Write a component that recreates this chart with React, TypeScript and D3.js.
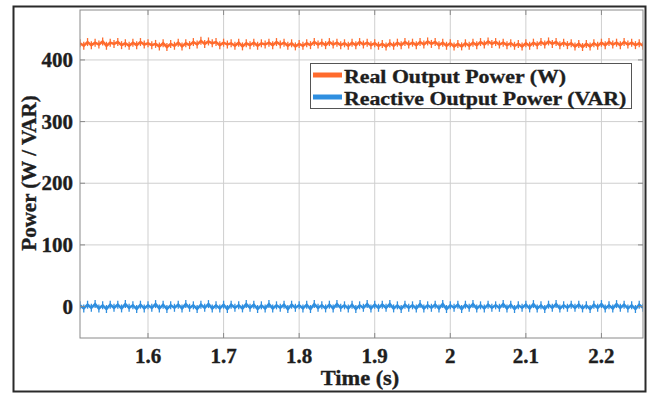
import React from "react";
import * as d3 from "d3";

const xTicks = [1.6, 1.7, 1.8, 1.9, 2.0, 2.1, 2.2];
const xTickLabels = ["1.6", "1.7", "1.8", "1.9", "2", "2.1", "2.2"];
const yTicks = [0, 100, 200, 300, 400];
const yTickLabels = ["0", "100", "200", "300", "400"];
const timeStart = 1.51;
const timeEnd = 2.255;

const realPower = [
  427, 423, 429, 424, 428, 425, 430, 423, 428, 426,
  429, 424, 427, 423, 428, 424, 429, 425, 427, 424,
  426, 422, 427, 421, 426, 423, 428, 422, 427, 424,
  429, 425, 431, 426, 430, 427, 429, 424, 428, 425,
  427, 423, 428, 422, 427, 424, 428, 423, 427, 425,
  428, 424, 429, 425, 428, 423, 427, 422, 426, 423,
  427, 424, 429, 425, 428, 424, 429, 425, 428, 424,
  427, 423, 428, 424, 429, 425, 428, 424, 427, 423,
  426, 422, 427, 423, 428, 424, 429, 425, 428, 424,
  429, 425, 430, 426, 429, 424, 428, 423, 427, 422,
  426, 422, 427, 423, 428, 424, 429, 425, 430, 426,
  429, 425, 428, 424, 427, 423, 426, 422, 427, 423,
  428, 424, 429, 425, 430, 426, 429, 424, 428, 424,
  427, 422, 426, 421, 426, 422, 427, 423, 428, 424,
  429, 425, 428, 424, 429, 425, 428, 424, 427, 423,
];

const reactivePower = [
  2, -3, 3, -2, 4, -3, 2, -4, 3, -2,
  3, -3, 4, -2, 2, -4, 3, -3, 2, -2,
  4, -3, 3, -4, 2, -2, 3, -3, 4, -2,
  2, -4, 3, -2, 4, -3, 2, -3, 3, -4,
  3, -2, 2, -3, 4, -2, 3, -4, 2, -3,
  4, -3, 2, -2, 3, -4, 3, -2, 2, -3,
  3, -4, 4, -2, 2, -3, 3, -3, 4, -2,
  2, -3, 3, -4, 2, -2, 4, -3, 3, -2,
  3, -2, 4, -3, 2, -4, 3, -2, 2, -3,
  4, -3, 2, -2, 3, -3, 4, -4, 2, -2,
  3, -4, 3, -2, 4, -3, 2, -3, 3, -2,
  2, -2, 4, -3, 3, -4, 2, -2, 3, -3,
  4, -3, 2, -4, 3, -2, 4, -3, 2, -2,
  3, -2, 3, -3, 2, -4, 3, -2, 4, -3,
  2, -3, 4, -2, 3, -3, 2, -4, 3, -2,
];

const seriesNames = ["Real Output Power (W)", "Reactive Output Power (VAR)"];
const seriesColors = ["#ff6b2d", "#2f8fe0"];

const FONT = "'Liberation Serif', 'Times New Roman', serif";

export default function App() {
  const W = 651, H = 394;
  const L = 80, R = 643, T = 10, B = 338;
  const x = d3.scaleLinear().domain([timeStart, timeEnd]).range([L, R]);
  const y = d3.scaleLinear().domain([-51, 481]).range([B, T]);

  const idxScale = (n: number) => d3.scaleLinear().domain([0, n - 1]).range([timeStart, timeEnd]);
  const mkLine = (vals: number[]) => {
    const idx = idxScale(vals.length);
    return d3.line<number>().x((_, i) => x(idx(i))).y((v) => y(v))(vals) || "";
  };
  const series = [realPower, reactivePower];
  const textStyle = { fontFamily: FONT, fontWeight: "bold" as const, fill: "#1e1e1e", stroke: "#1e1e1e", strokeWidth: 0.35 };

  return (
    <svg width={W} height={H} style={{ position: "absolute", left: 0, top: 0, background: "#fff" }}>
      <rect x={0} y={0} width={W} height={H} fill="#fff" />
      <rect x={13.5} y={6.5} width={632} height={385} fill="none" stroke="#2a2a2a" strokeWidth={2} />
      <clipPath id="plotclip">
        <rect x={L} y={T} width={R - L} height={B - T} />
      </clipPath>
      {/* grid */}
      {xTicks.map((t) => (
        <line key={"gx" + t} x1={x(t)} x2={x(t)} y1={T} y2={B} stroke="#cfcfcf" strokeWidth={1} />
      ))}
      {yTicks.map((t) => (
        <line key={"gy" + t} x1={L} x2={R} y1={y(t)} y2={y(t)} stroke="#cfcfcf" strokeWidth={1} />
      ))}
      {/* series */}
      <g clipPath="url(#plotclip)">
        {series.map((vals, i) => {
          const idx = idxScale(vals.length);
          return (
            <g key={"s" + i}>
              <path d={mkLine(vals)} fill="none" stroke={seriesColors[i]} strokeWidth={2.5} />
              {vals.map((v, j) => (
                <line key={j} x1={x(idx(j))} x2={x(idx(j))} y1={y(v) - 4} y2={y(v) + 4}
                  stroke={seriesColors[i]} strokeWidth={1.3} />
              ))}
            </g>
          );
        })}
      </g>
      {/* axes box */}
      <rect x={L} y={T} width={R - L} height={B - T} fill="none" stroke="#8a8a8a" strokeWidth={1} />
      {xTicks.map((t) => (
        <g key={"tx" + t}>
          <line x1={x(t)} x2={x(t)} y1={B} y2={B - 5} stroke="#8a8a8a" />
          <line x1={x(t)} x2={x(t)} y1={T} y2={T + 5} stroke="#8a8a8a" />
        </g>
      ))}
      {yTicks.map((t) => (
        <g key={"ty" + t}>
          <line x1={L} x2={L + 5} y1={y(t)} y2={y(t)} stroke="#8a8a8a" />
          <line x1={R} x2={R - 5} y1={y(t)} y2={y(t)} stroke="#8a8a8a" />
        </g>
      ))}
      {/* tick labels */}
      {xTicks.map((t, i) => (
        <text key={"lx" + t} transform={`translate(${x(t)},363) scale(1.05,1)`} textAnchor="middle"
          fontSize={20} {...textStyle}>{xTickLabels[i]}</text>
      ))}
      {yTicks.map((t, i) => (
        <text key={"ly" + t} transform={`translate(73,${y(t) + 7}) scale(1.05,1)`} textAnchor="end"
          fontSize={20} {...textStyle}>{yTickLabels[i]}</text>
      ))}
      {/* axis labels */}
      <text transform="translate(360,385) scale(1.12,1)" textAnchor="middle" fontSize={20} {...textStyle}>Time (s)</text>
      <text transform="translate(36,173) rotate(-90)" textAnchor="middle" fontSize={21} {...textStyle}>Power (W / VAR)</text>
      {/* legend */}
      <rect x={310.5} y={63.5} width={321} height={45} fill="#fff" stroke="#555" strokeWidth={1} />
      {seriesNames.map((n, i) => (
        <g key={"lg" + i}>
          <line x1={313} x2={342} y1={75 + i * 22} y2={75 + i * 22} stroke={seriesColors[i]} strokeWidth={5} />
          <text transform={`translate(344,${83 + i * 22}) scale(1.12,1)`} fontSize={19.5} {...textStyle}>{n}</text>
        </g>
      ))}
    </svg>
  );
}
